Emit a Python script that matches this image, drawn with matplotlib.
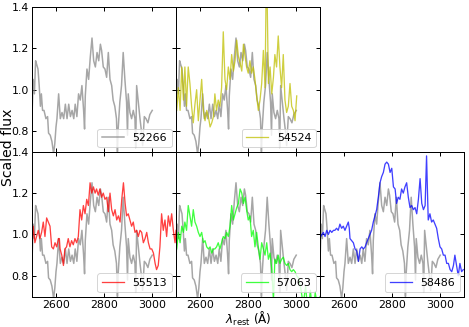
import matplotlib
matplotlib.use("Agg")
import matplotlib.pyplot as plt

# Reference spectrum (MJD 52266)
gray_wl = [2500, 2505, 2510, 2515, 2520, 2525, 2530, 2535, 2539, 2544, 2550, 2558, 2565, 2569,
           2576, 2583, 2590, 2595, 2600, 2604, 2611, 2618, 2625, 2632, 2639, 2646, 2653, 2660,
           2667, 2674, 2680, 2687, 2694, 2701, 2708, 2715, 2719, 2722, 2729, 2736, 2743, 2750,
           2757, 2764, 2771, 2778, 2785, 2790, 2797, 2804, 2811, 2818, 2825, 2832, 2838, 2845,
           2852, 2856, 2859, 2866, 2873, 2880, 2887, 2894, 2898, 2901, 2908, 2915, 2922, 2929,
           2932, 2936, 2943, 2950, 2955, 2961, 2968, 2975, 2983, 2991, 3001]
gray_fx = [0.87, 1.05, 0.98, 1.14, 1.12, 1.10, 1.02, 0.92, 0.98, 0.90, 0.90, 0.86, 0.87, 0.79,
           0.78, 0.75, 0.69, 0.74, 0.82, 0.86, 0.98, 0.86, 0.89, 0.86, 0.93, 0.86, 0.93, 0.87,
           0.90, 0.86, 0.93, 0.87, 0.98, 0.95, 1.02, 0.90, 0.81, 0.97, 1.10, 1.05, 1.16, 1.25,
           1.14, 1.11, 1.18, 1.14, 1.22, 1.19, 1.11, 1.10, 1.06, 1.18, 1.05, 1.02, 0.95, 0.92,
           0.86, 0.70, 0.81, 0.94, 1.02, 1.18, 1.05, 0.94, 0.78, 0.98, 0.89, 0.86, 0.90, 0.86,
           0.72, 1.02, 0.94, 0.86, 0.81, 0.73, 0.87, 0.86, 0.84, 0.88, 0.90]

# 54524
yel_wl = [2503, 2510, 2517, 2524, 2531, 2537, 2544, 2551, 2558, 2565, 2572, 2579, 2586, 2593,
          2600, 2607, 2614, 2621, 2628, 2635, 2642, 2649, 2656, 2662, 2669, 2676, 2683, 2690,
          2697, 2704, 2711, 2718, 2725, 2732, 2739, 2746, 2753, 2760, 2767, 2774, 2781, 2788,
          2794, 2801, 2808, 2815, 2822, 2829, 2836, 2843, 2850, 2857, 2864, 2871, 2875, 2880,
          2885, 2892, 2899, 2906, 2912, 2919, 2926, 2933, 2940, 2947, 2954, 2961, 2968, 2975,
          2982, 2989, 2996, 3003]
yel_fx = [0.90, 1.01, 0.90, 1.11, 0.95, 1.11, 0.92, 1.11, 1.03, 0.92, 0.84, 0.93, 1.00, 0.85,
          0.95, 1.05, 0.90, 0.85, 0.90, 0.87, 0.82, 0.84, 0.87, 0.98, 0.90, 0.95, 0.92, 1.01,
          1.28, 1.05, 1.00, 1.11, 1.05, 1.17, 1.09, 1.14, 1.24, 1.16, 1.13, 1.09, 1.22, 1.16,
          1.11, 1.08, 1.14, 1.08, 1.11, 1.05, 0.97, 0.90, 0.95, 1.03, 1.19, 1.01, 1.42, 1.42,
          1.03, 1.11, 0.98, 1.06, 1.17, 1.11, 1.26, 1.11, 1.01, 1.17, 0.95, 0.89, 0.92, 1.03,
          0.92, 0.90, 0.85, 0.97]

# 55513
red_wl = [2501, 2505, 2512, 2519, 2526, 2533, 2540, 2547, 2554, 2561, 2568, 2575, 2582, 2589,
          2596, 2603, 2610, 2614, 2617, 2624, 2631, 2637, 2644, 2651, 2658, 2665, 2672, 2679,
          2686, 2693, 2700, 2707, 2714, 2721, 2728, 2735, 2742, 2749, 2756, 2763, 2769, 2776,
          2783, 2790, 2797, 2804, 2811, 2818, 2825, 2832, 2839, 2846, 2853, 2860, 2867, 2874,
          2881, 2888, 2894, 2901, 2908, 2915, 2922, 2929, 2936, 2943, 2950, 2957, 2964, 2971,
          2978, 2985, 2992, 2999, 3006, 3013, 3019, 3026, 3033, 3040, 3047, 3054, 3061, 3068,
          3075, 3082, 3089, 3096, 3100]
red_fx = [0.96, 1.04, 0.96, 0.99, 1.02, 0.98, 1.01, 1.06, 0.99, 1.08, 1.06, 1.04, 0.94, 0.93,
          0.96, 0.94, 0.98, 0.98, 0.93, 0.90, 0.85, 0.93, 0.94, 0.98, 0.94, 0.97, 0.95, 0.98,
          0.96, 0.99, 1.12, 1.07, 1.14, 1.10, 1.17, 1.14, 1.25, 1.20, 1.23, 1.20, 1.22, 1.19,
          1.22, 1.18, 1.20, 1.17, 1.18, 1.11, 1.20, 1.12, 1.09, 1.12, 1.07, 1.09, 1.06, 1.17,
          1.25, 1.15, 1.09, 1.10, 1.07, 1.04, 1.06, 1.01, 1.02, 0.99, 1.02, 1.01, 0.96, 0.98,
          1.01, 0.96, 0.93, 0.93, 0.91, 0.86, 0.83, 0.85, 0.94, 1.10, 1.02, 1.07, 0.99, 1.09,
          1.04, 1.10, 1.02, 0.96, 1.02]

# 57063
grn_wl = [2503, 2510, 2517, 2524, 2531, 2537, 2544, 2551, 2558, 2565, 2572, 2579, 2586, 2593,
          2600, 2607, 2614, 2621, 2628, 2635, 2642, 2649, 2656, 2662, 2669, 2676, 2683, 2690,
          2697, 2704, 2711, 2718, 2725, 2732, 2739, 2746, 2753, 2760, 2767, 2774, 2781, 2788,
          2794, 2801, 2808, 2815, 2822, 2829, 2836, 2843, 2850, 2857, 2864, 2871, 2878, 2885,
          2892, 2899, 2906, 2912, 2919, 2926, 2933, 2940, 2947, 2954, 2961, 2968, 2975, 2982,
          2989, 2996, 3003, 3010, 3020, 3030, 3040, 3050, 3060, 3070, 3080, 3090, 3100]
grn_fx = [0.93, 1.01, 0.96, 1.04, 1.01, 1.06, 1.02, 1.14, 1.09, 1.04, 1.12, 1.06, 1.04, 1.01,
          0.99, 1.01, 0.96, 0.97, 0.94, 0.93, 0.94, 0.91, 0.93, 0.93, 0.94, 0.96, 0.93, 0.96,
          0.99, 0.98, 1.01, 0.99, 1.04, 1.14, 1.07, 1.10, 1.13, 1.15, 1.22, 1.20, 1.15, 1.18,
          1.12, 1.07, 1.09, 0.99, 1.02, 0.94, 1.01, 0.94, 0.88, 0.96, 0.93, 0.90, 0.96, 0.88,
          0.91, 0.83, 0.68, 0.88, 0.86, 0.90, 0.86, 0.88, 0.89, 0.86, 0.85, 0.86, 0.83, 0.82,
          0.83, 0.82, 0.80, 0.79, 0.74, 0.66, 0.75, 0.62, 0.73, 0.60, 0.72, 0.65, 0.70]

# 58486
blu_wl = [2503, 2514, 2521, 2528, 2535, 2542, 2549, 2556, 2562, 2569, 2576, 2583, 2590, 2597,
          2604, 2611, 2618, 2622, 2625, 2632, 2639, 2646, 2653, 2660, 2667, 2674, 2681, 2688,
          2694, 2701, 2708, 2715, 2722, 2729, 2736, 2743, 2750, 2757, 2764, 2771, 2778, 2785,
          2792, 2799, 2806, 2813, 2819, 2826, 2833, 2840, 2847, 2854, 2861, 2868, 2875, 2882,
          2889, 2896, 2903, 2910, 2917, 2924, 2931, 2938, 2944, 2947, 2951, 2958, 2965, 2972,
          2979, 2986, 2993, 3000, 3007, 3014, 3021, 3028, 3035, 3042, 3049, 3056, 3062, 3069,
          3076, 3083, 3090, 3097]
blu_fx = [0.99, 1.01, 0.99, 1.02, 1.00, 1.02, 1.01, 1.02, 1.02, 1.03, 1.02, 1.05, 1.03, 1.04,
          1.02, 1.04, 1.06, 1.03, 0.98, 0.97, 0.96, 0.93, 0.92, 0.87, 0.93, 0.94, 0.93, 0.94,
          0.96, 0.98, 1.00, 1.02, 1.06, 1.09, 1.12, 1.18, 1.25, 1.28, 1.30, 1.34, 1.35, 1.34,
          1.30, 1.32, 1.23, 1.22, 1.15, 1.18, 1.17, 1.22, 1.20, 1.23, 1.25, 1.18, 1.13, 1.14,
          1.12, 1.13, 1.10, 1.17, 1.27, 1.15, 1.12, 1.14, 1.38, 1.24, 1.07, 1.10, 1.06, 1.07,
          1.05, 1.03, 0.98, 0.94, 0.93, 0.90, 0.90, 0.86, 0.86, 0.83, 0.82, 0.85, 0.90, 0.85,
          0.80, 0.86, 0.82, 0.83]

labels = ["52266", "54524", "55513", "57063", "58486"]
xticks = [2600, 2800, 3000]
yticks = [0.8, 1.0, 1.2, 1.4]

series = [(None, None, None),
          (yel_wl, yel_fx, "y"),
          (red_wl, red_fx, "r"),
          (grn_wl, grn_fx, "lime"),
          (blu_wl, blu_fx, "b")]
positions = [(0, 0), (0, 1), (1, 0), (1, 1), (1, 2)]

plt.rcParams["font.size"] = 11
fig = plt.figure(figsize=(469 / 72, 327 / 72), dpi=72)
gs = fig.add_gridspec(2, 3, left=32 / 469, right=464 / 469, top=1 - 7 / 327,
                      bottom=1 - 296.5 / 327, wspace=0, hspace=0)

axes = []
for i, (r, c) in enumerate(positions):
    ax = fig.add_subplot(gs[r, c])
    axes.append(ax)
    wl, fx, col = series[i]
    if i == 0:
        ax.plot(gray_wl, gray_fx, color="gray", alpha=0.7, lw=1.5, label=labels[0])
    else:
        ax.plot(gray_wl, gray_fx, color="gray", alpha=0.7, lw=1.5)
        ax.plot(wl, fx, color=col, alpha=0.75, lw=1.3, label=labels[i])
    ax.set_xlim(2500, 3100)
    ax.set_ylim(0.7, 1.4)
    ax.set_xticks(xticks)
    ax.set_yticks(yticks)
    for s in ax.spines.values():
        s.set_linewidth(1.0)
    ax.tick_params(direction="in", top=True, right=True, length=4, width=1.0,
                   labelsize=11, pad=3,
                   labelbottom=(r == 1), labelleft=(c == 0))
    ax.legend(loc="lower right", fontsize=11, borderaxespad=0.4)

fig.text(248 / 469, 1 - 319 / 327, r"$\lambda_{\rm rest}$ (Å)", fontsize=12,
         ha="center", va="center")
fig.text(8 / 469, 1 - 147 / 327, "Scaled flux", fontsize=14, rotation=90,
         ha="center", va="center")

fig.savefig("out.png", dpi=72)
